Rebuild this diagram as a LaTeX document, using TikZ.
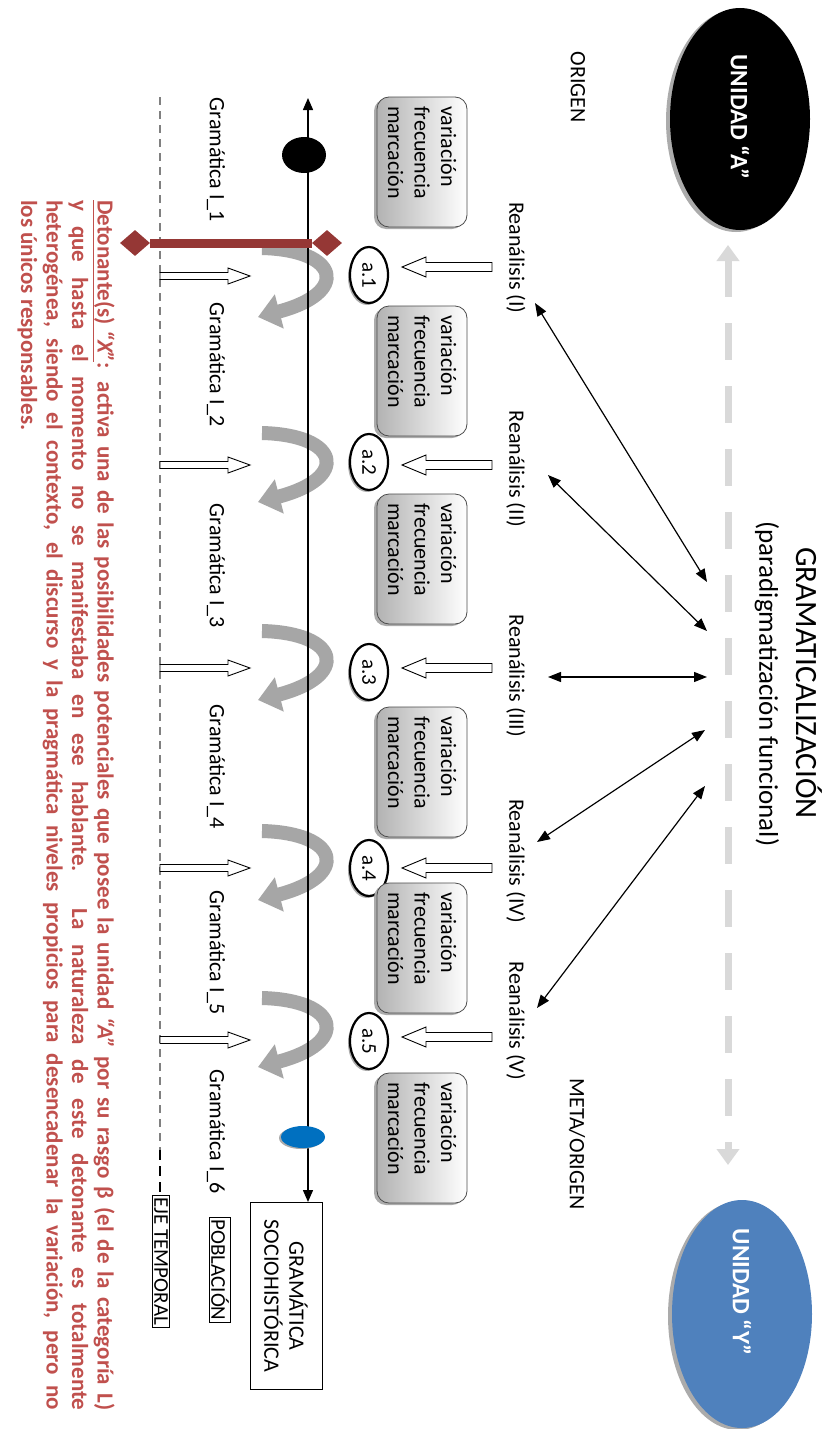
\documentclass[tikz,border=0pt]{standalone}
\usepackage{fontspec}
\setmainfont{Carlito}
\usetikzlibrary{arrows.meta,shapes.geometric}

\definecolor{unitblue}{HTML}{4F81BD}
\definecolor{dotblue}{HTML}{0070C0}
\definecolor{triggerred}{HTML}{953735}
\definecolor{notered}{HTML}{C0504D}
\definecolor{pathgray}{HTML}{D9D9D9}
\definecolor{curvegray}{HTML}{A6A6A6}
\definecolor{shadegray}{HTML}{ABABAB}

\tikzset{
  txt/.style={font=\fontsize{22}{26}\selectfont, inner sep=1pt},
  unitnode/.style={ellipse, inner sep=0pt, minimum width=222pt, minimum height=140pt},
  unittext/.style={text=white, font=\fontsize{25}{30}\selectfont\bfseries},
  featbox/.style={rectangle, rounded corners=12pt, draw=gray!60!black, line width=0.8pt,
    left color=gray!60, right color=white, minimum width=130pt, minimum height=90pt,
    text width=112pt, align=left, inner xsep=9pt, inner ysep=0pt,
    font=\fontsize{22}{26.5}\selectfont},
  featshadow/.style={rectangle, rounded corners=12pt, fill=shadegray, minimum width=130pt,
    minimum height=90pt, inner sep=0pt},
  stagenode/.style={ellipse, draw, line width=2.2pt, fill=white, minimum width=56pt,
    minimum height=38pt, inner sep=0pt, font=\fontsize{21}{24}\selectfont},
  stageshadow/.style={ellipse, fill=shadegray, minimum width=56pt, minimum height=38pt, inner sep=0pt},
  boxed/.style={draw, line width=1pt, inner xsep=2pt, inner ysep=2pt, font=\fontsize{21}{24}\selectfont},
  twoway/.style={line width=1.2pt, {Triangle[width=10pt,length=13pt]}-{Triangle[width=10pt,length=13pt]}},
  pathline/.style={pathgray, line width=7pt, dash pattern=on 37pt off 26pt,
    {Triangle[width=22pt,length=16pt]}-{Triangle[width=22pt,length=16pt]}},
  axisline/.style={line width=1.4pt, {Triangle[width=10pt,length=12pt]}-{Triangle[width=10pt,length=12pt]}},
  turnarrow/.style={curvegray, line width=14pt, -{Triangle[width=34pt,length=22pt]}},
  hollow/.style={draw=black, line width=0.9pt, fill=white},
  timeline/.style={gray, line width=1.3pt, dash pattern=on 8pt off 6pt},
}

% hollow arrow from a reanalysis label down to its stage
\newcommand\reanarrow[1]{%
  \draw[hollow] (#1-4.5,492) -- (#1-4.5,426) -- (#1-10,426) -- (#1,402)
    -- (#1+10,426) -- (#1+4.5,426) -- (#1+4.5,492) -- cycle;}
% thin hollow arrow from the time line up to the axis
\newcommand\timearrow[1]{%
  \draw[hollow] (#1-3.5,160) -- (#1-3.5,228) -- (#1-8,228) -- (#1,250)
    -- (#1+8,228) -- (#1+3.5,228) -- (#1+3.5,160) -- cycle;}
% curved turn arrow across the axis
\newcommand\turn[1]{%
  \draw[turnarrow] (#1-37,262) .. controls (#1-35,340) and (#1+8,350) .. (#1+32,258);}
% feature box with its shadow
\newcommand\feature[2]{%
  \node[featshadow] at (#2+2,419) {};
  \node[featbox] (#1) at (#2,422) {variación\\frecuencia\\marcación};}
% stage oval with its shadow
\newcommand\stage[3]{%
  \node[stageshadow] at (#2+2,367) {};
  \node[stagenode] (#1) at (#2,369) {#3};}

\begin{document}
\begin{tikzpicture}[x=1pt,y=1pt]
\begin{scope}[rotate=-90, transform shape]
\useasboundingbox (0,0) rectangle (1429,829);
\fill[white] (0,0) rectangle (1429,829);

% ---- source and goal units
\node[unitnode, fill=shadegray] at (121,736) {};
\node[unitnode, fill=black] (uA) at (119,740) {};
\node[unittext] (uAtext) at (117,740) {UNIDAD “A”};
\node[unitnode, fill=shadegray, minimum width=228pt] at (1316,738) {};
\node[unitnode, fill=unitblue, minimum width=228pt] (uY) at (1314,742) {};
\node[unittext] (uYtext) at (1292,742) {UNIDAD “Y”};

\coordinate (gA) at (245,728);
\coordinate (gY) at (1165,728);
\draw[pathline] (gA) -- (gY);

% ---- titles
\node[font=\fontsize{31}{34}\selectfont] (title) at (683,809) {GRAMATICALIZACIÓN};
\node[font=\fontsize{27}{30}\selectfont] (subtitle) at (684,767) {(paradigmatización funcional)};
\node[txt] (orig) at (87,578) {ORIGEN};
\node[txt] (meta) at (1144,577) {META/ORIGEN};

% ---- reanalysis labels and links to the centre
\node[txt] (re1) at (258,516) {Reanálisis (I)};
\node[txt] (re2) at (469,516) {Reanálisis (II)};
\node[txt] (re3) at (676,516) {Reanálisis (III)};
\node[txt] (re4) at (861,516) {Reanálisis (IV)};
\node[txt] (re5) at (1021,516) {Reanálisis (V)};

\coordinate (s1) at (303,535);  \coordinate (h1) at (582,707);
\coordinate (s2) at (475,548);  \coordinate (h2) at (631,707);
\coordinate (s3) at (677,548);  \coordinate (h3) at (677,707);
\coordinate (s4) at (842,537);  \coordinate (h4) at (730,705);
\coordinate (s5) at (1008,537); \coordinate (h5) at (786,705);
\foreach \i in {1,...,5} {\draw[twoway] (s\i) -- (h\i);}

% ---- time line at the bottom
\draw[timeline] (97,160) -- (1150,160);
\draw[black, line width=1.5pt, dash pattern=on 10pt off 6pt] (1150,160) -- (1195,160);
\node[boxed, anchor=west] (eje) at (1195,161) {EJE TEMPORAL};

\foreach \x in {276,465,668,868,1040} {\timearrow{\x}}

% ---- grammar labels
\node[txt] (g1) at (160,216) {Gramática I\_1};
\node[txt] (g2) at (365,216) {Gramática I\_2};
\node[txt] (g3) at (566,216) {Gramática I\_3};
\node[txt] (g4) at (767,216) {Gramática I\_4};
\node[txt] (g5) at (953,216) {Gramática I\_5};
\node[txt] (g6) at (1132,216) {Gramática I\_6};
\node[boxed] (pob) at (1270,220) {POBLACIÓN};

% ---- turn arrows
\foreach \x in {285,470,668,868,1035} {\turn{\x}}

% ---- main axis
\node[draw, line width=1pt, minimum width=187pt, minimum height=72pt, align=center,
  font=\fontsize{22}{25}\selectfont] (gsh) at (1296,286) {GRAMÁTICA\\SOCIOHISTÓRICA};
\coordinate (ax0) at (98,308);
\coordinate (ax1) at (1202,308);
\draw[axisline] (ax0) -- (ax1);

\node[ellipse, fill=black, minimum width=36pt, minimum height=44pt, inner sep=0pt] (dotA) at (155,304) {};
\node[ellipse, fill=shadegray, minimum width=22pt, minimum height=44pt, inner sep=0pt] at (1138,301) {};
\node[ellipse, fill=dotblue, minimum width=22pt, minimum height=44pt, inner sep=0pt] (dotY) at (1137,303) {};

% ---- trigger
\node[diamond, fill=triggerred, minimum width=26pt, minimum height=30pt, inner sep=0pt] (dL) at (243,135) {};
\node[diamond, fill=triggerred, minimum width=26pt, minimum height=30pt, inner sep=0pt] (dR) at (243,327) {};
\draw[triggerred, line width=9pt] (dL) -- (dR);

% ---- stages and features
\stage{a1}{275}{a.1}
\stage{a2}{462}{a.2}
\stage{a3}{672}{a.3}
\stage{a4}{868}{a.4}
\stage{a5}{1041}{a.5}
\foreach \x in {267,465,668,868,1037} {\reanarrow{\x}}

\feature{f1}{162}
\feature{f2}{371}
\feature{f3}{559}
\feature{f4}{772}
\feature{f5}{948}
\feature{f6}{1138}

% ---- note
\node[anchor=north west, inner sep=0pt, text width=1210pt, align=justify, text=notered,
  font=\fontsize{23}{25.5}\selectfont\bfseries] (note) at (200,115)
  {\underline{Detonante(s) \textit{“X”}}: activa una de las posibilidades potenciales que posee la unidad \textit{“A”} por su rasgo β (el de la categoría L)\linebreak
  y que hasta el momento no se manifestaba en ese hablante. La naturaleza de este detonante es totalmente\linebreak
  heterogénea, siendo el contexto, el discurso y la pragmática niveles propicios para desencadenar la variación, pero no\linebreak
  los únicos responsables.};
\end{scope}
\end{tikzpicture}
\end{document}
